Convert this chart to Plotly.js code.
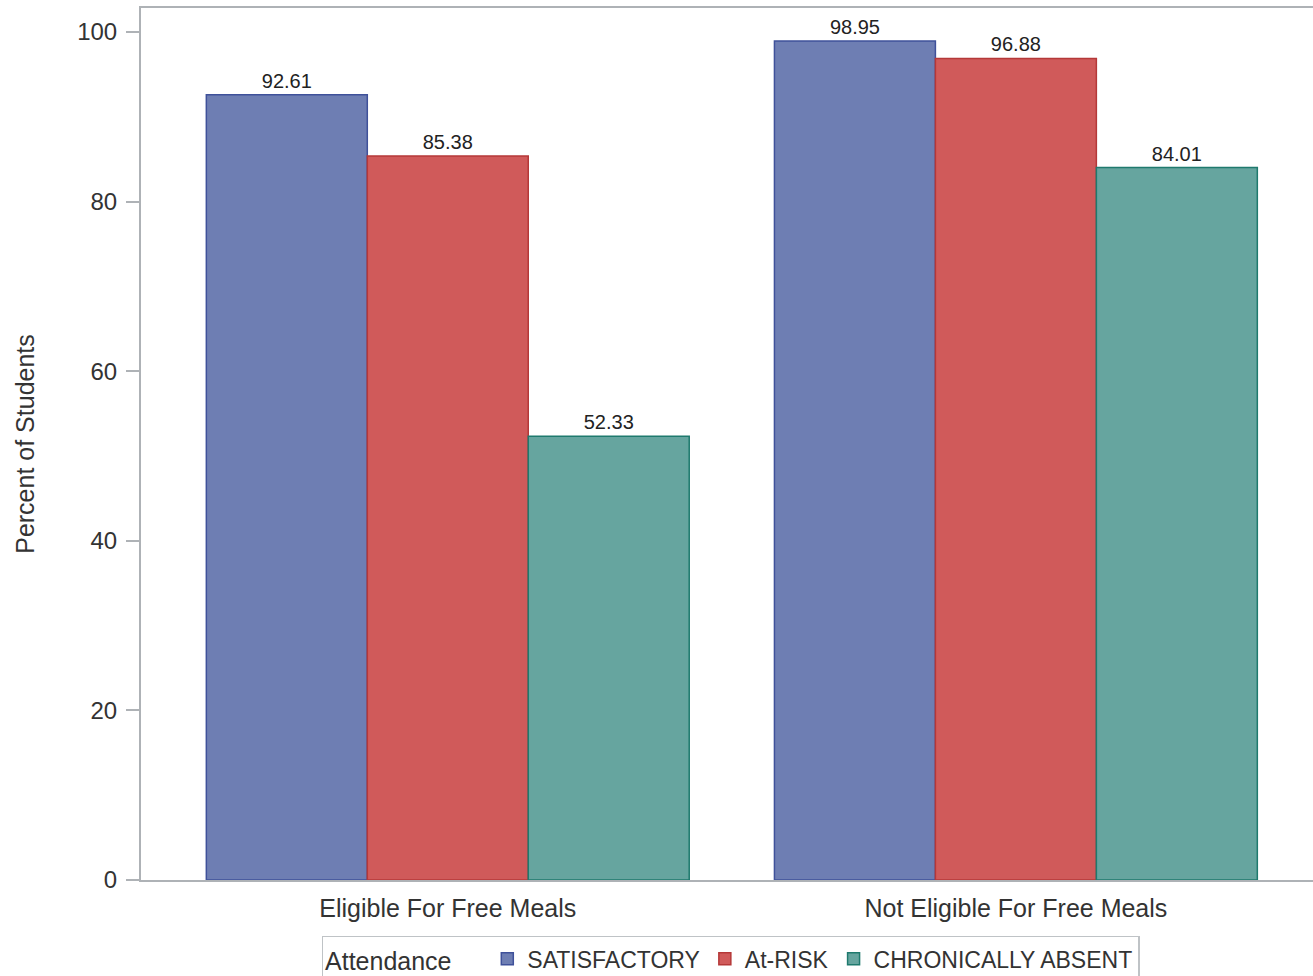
<!DOCTYPE html>
<html>
<head>
<meta charset="utf-8">
<script src="https://cdn.plot.ly/plotly-3.0.1.min.js"></script>
<style>html,body{margin:0;padding:0;background:#fff;}#chart{width:1313px;height:976px;}</style>
</head>
<body>
<div id="chart"></div>
<script>
const categories = ["Eligible For Free Meals", "Not Eligible For Free Meals"];
const seriesNames = ["SATISFACTORY", "At-RISK", "CHRONICALLY ABSENT"];
const satisfactory = [92.61, 98.95];
const atRisk = [85.38, 96.88];
const chronicallyAbsent = [52.33, 84.01];
const yTicks = [0, 20, 40, 60, 80, 100];

const fills = ["#6E7EB3", "#D05A5A", "#66A59F"];
const edges = ["#3F519A", "#B53838", "#1F7A6E"];
const values = [satisfactory, atRisk, chronicallyAbsent];

const font = "Liberation Sans, Arial, sans-serif";
const traces = values.map((v, i) => ({
  type: "bar",
  name: seriesNames[i],
  x: categories,
  y: v,
  text: v.map(d => d.toFixed(2)),
  textposition: "outside",
  cliponaxis: false,
  textfont: {family: font, size: 20, color: "#222"},
  marker: {color: fills[i], line: {color: edges[i], width: 1.5}},
  hoverinfo: "x+y+name"
}));

const layout = {
  width: 1313, height: 976,
  margin: {l: 141, r: 0, t: 8, b: 96, autoexpand: false},
  paper_bgcolor: "#fff", plot_bgcolor: "#fff",
  barmode: "group", bargap: 0.15, bargroupgap: 0,
  font: {family: font, color: "#333"},
  showlegend: true,
  xaxis: {
    type: "category",
    range: [-0.540, 1.523],
    showline: true, mirror: true, linecolor: "#AEB2B6", linewidth: 2,
    ticks: "", showgrid: false, zeroline: false,
    automargin: false,
    tickfont: {family: font, size: 25, color: "#333"},
    ticklabelstandoff: 5
  },
  yaxis: {
    range: [0, 102.83],
    tickvals: yTicks,
    ticktext: yTicks.map(String),
    showline: true, linecolor: "#AEB2B6", linewidth: 2,
    ticks: "outside", ticklen: 13, tickcolor: "#AEB2B6", tickwidth: 2,
    showgrid: false, zeroline: false,
    automargin: false,
    tickfont: {family: font, size: 24, color: "#333"},
    ticklabelstandoff: 4,
    title: {text: "Percent of Students", font: {family: font, size: 25, color: "#333"}, standoff: 35}
  },
  legend: {
    orientation: "h",
    x: 0.503, xanchor: "center",
    y: -0.064, yanchor: "top",
    bordercolor: "#BFC3C6", borderwidth: 1.5,
    font: {family: font, size: 23, color: "#333"},
    title: {text: "Attendance    ", font: {family: font, size: 25, color: "#333"}},
    itemwidth: 30, traceorder: "normal"
  }
};

Plotly.newPlot("chart", traces, layout, {displayModeBar: false, staticPlot: true});
</script>
</body>
</html>
